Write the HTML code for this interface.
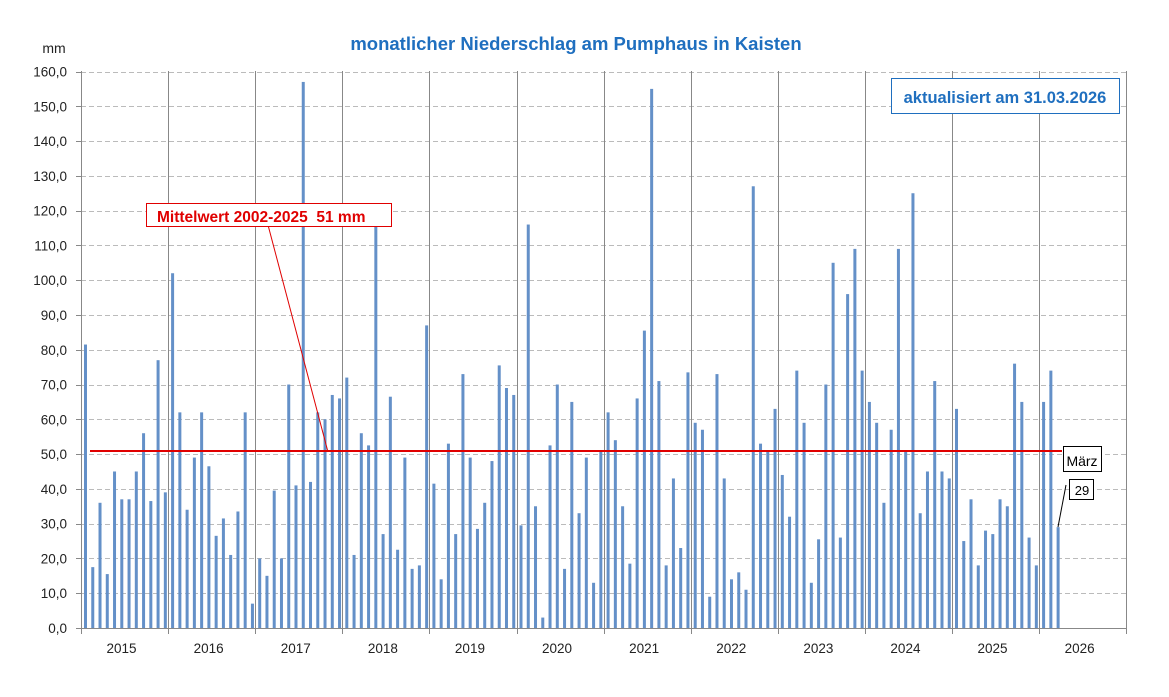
<!DOCTYPE html>
<html><head><meta charset="utf-8"><style>
body{margin:0;background:#fff;}
svg text{font-family:"Liberation Sans",Arial,sans-serif;}
</style></head><body>
<svg id="s" width="1169" height="692" xmlns="http://www.w3.org/2000/svg">
<rect width="1169" height="692" fill="#fff"/>
<g id="grid"></g>
<g id="bars"></g>
<text x="576" y="50" text-anchor="middle" font-size="18.5" font-weight="bold" fill="#1f6fbf">monatlicher Niederschlag am Pumphaus in Kaisten</text>
<text x="54" y="53" text-anchor="middle" font-size="14" fill="#222">mm</text>
<g id="ylab" font-size="13.5" fill="#222" text-anchor="end"></g>
<g id="xlab" font-size="13.5" fill="#222" text-anchor="middle"></g>
<line x1="90" y1="451" x2="1062" y2="451" stroke="#e00000" stroke-width="2"/>
<line x1="268" y1="225" x2="328" y2="452" stroke="#e00000" stroke-width="1"/>
<rect x="146.5" y="203.5" width="245" height="23" fill="#fff" stroke="#e00000"/>
<text x="157" y="222" font-size="15.5" font-weight="bold" fill="#e00000" xml:space="preserve" style="white-space:pre">Mittelwert 2002-2025  51 mm</text>
<rect x="891.5" y="78.5" width="228" height="35" fill="#fff" stroke="#1f6fbf"/>
<text x="1005" y="103" text-anchor="middle" font-size="16.5" font-weight="bold" fill="#1f6fbf">aktualisiert am 31.03.2026</text>
<line x1="1066" y1="485" x2="1058" y2="527" stroke="#000" stroke-width="1"/>
<rect x="1063.5" y="446.5" width="38" height="25" fill="#fff" stroke="#000"/>
<text x="1082" y="466" text-anchor="middle" font-size="14" fill="#000">März</text>
<rect x="1069.5" y="479.5" width="24" height="20" fill="#fff" stroke="#000"/>
<text x="1082" y="495" text-anchor="middle" font-size="13" fill="#000">29</text>
</svg>
<script>
var NS="http://www.w3.org/2000/svg";
function el(p,t,a){var e=document.createElementNS(NS,t);for(var k in a)e.setAttribute(k,a[k]);document.getElementById(p).appendChild(e);return e;}
var y0=628,sc=(628-71.5)/160,x0=81,yw=87.1;
for(var v=10;v<=160;v+=10){var y=Math.round(y0-v*sc)+0.5;el('grid','line',{x1:x0,y1:y,x2:1127,y2:y,stroke:'#bbb','stroke-dasharray':'5,3'});}
for(var v=0;v<=160;v+=10){var y=y0-v*sc;var t=el('ylab','text',{x:67,y:y+5});t.textContent=v.toFixed(1).replace('.',',');el('grid','line',{x1:76,y1:Math.round(y)+0.5,x2:81,y2:Math.round(y)+0.5,stroke:'#888'});}
for(var i=0;i<=12;i++){var x=Math.round(x0+i*yw)+0.5;el('grid','line',{x1:x,y1:71,x2:x,y2:634,stroke:'#888'});}
el('grid','line',{x1:81,y1:628.5,x2:1127,y2:628.5,stroke:'#888'});
for(var i=0;i<12;i++){var t=el('xlab','text',{x:x0+i*yw+yw/2-3,y:653});t.textContent=2015+i;}
var d=[81.5,17.5,36,15.5,45,37,37,45,56,36.5,77,39,
102,62,34,49,62,46.5,26.5,31.5,21,33.5,62,7,
20,15,39.5,20,70,41,157,42,62,60,67,66,
72,21,56,52.5,116,27,66.5,22.5,49,17,18,87,
41.5,14,53,27,73,49,28.5,36,48,75.5,69,67,
29.5,116,35,3,52.5,70,17,65,33,49,13,51,
62,54,35,18.5,66,85.5,155,71,18,43,23,73.5,
59,57,9,73,43,14,16,11,127,53,51,63,
44,32,74,59,13,25.5,70,105,26,96,109,74,
65,59,36,57,109,51,125,33,45,71,45,43,
63,25,37,18,28,27,37,35,76,65,26,18,
65,74,29];
for(var i=0;i<d.length;i++){var x=x0+i*yw/12+3;var h=d[i]*sc;el('bars','rect',{x:x,y:y0-h,width:3,height:h,fill:'#6490c8'});}
</script>
</body></html>
